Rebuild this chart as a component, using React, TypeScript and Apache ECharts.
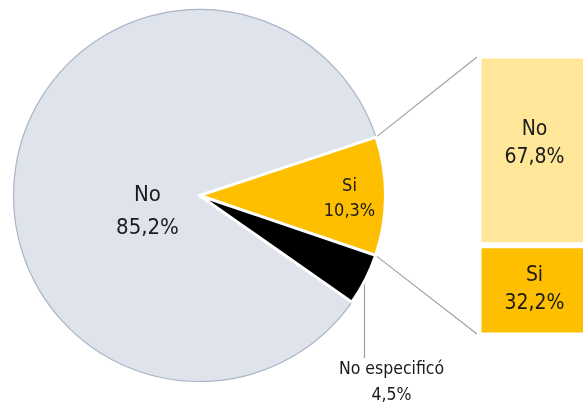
import { useEffect, useRef } from 'react';
import * as echarts from 'echarts';

const pieCategories = ['No', 'Si', 'No especificó'];
const pieValues = [85.2, 10.3, 4.5];
const pieColors = ['#dfe3eb', '#fdbf00', '#000000'];
const barCategories = ['Si', 'No'];
const barValues = [32.2, 67.8];
const barColors = ['#fdbf00', '#ffe699'];

const fmt = (v: number) => v.toFixed(1).replace('.', ',') + '%';
const FONT = "'DejaVu Sans Condensed', 'Liberation Sans Narrow', sans-serif";

export default function App() {
  const ref = useRef<HTMLDivElement>(null);
  useEffect(() => {
    const chart = echarts.init(ref.current!, null, { renderer: 'svg' });
    const cx = 199.5, cy = 195.5, R = 186;
    const total = pieValues.reduce((a, b) => a + b, 0);
    const siTop = 18.3;
    const startAngle = siTop + (pieValues[0] / total) * 360;
    const siBottom = siTop - (pieValues[1] / total) * 360;
    const neMid = siBottom - (pieValues[2] / total) * 180;
    const d = Math.PI / 180;
    const pt = (a: number, r: number) => [cx + r * Math.cos(a * d), cy - r * Math.sin(a * d)];

    const gLeft = 478.5, gTop = 55.5, gW = 112, gH = 280;
    const barTop = gTop + 1.5, barBottom = gTop + gH - 1.5, barLeft = gLeft - 1.5;

    const labelCfg = [
      { size: 22, lh: 33, x: 147.5, y: 209.5 },
      { size: 18, lh: 25, x: 349.5, y: 196.5 },
      { size: 17.5, lh: 26, x: 391.5, y: 380.5 },
    ];

    const pTop = pt(siTop, R);
    const pBot = pt(siBottom, R);
    const pNe = pt(neMid, R - 1);

    chart.setOption({
      animation: false,
      grid: { left: gLeft, top: gTop, width: gW, height: gH, outerBoundsMode: 'none', containLabel: false },
      xAxis: { type: 'category', data: ['x'], show: false },
      yAxis: { type: 'value', min: 0, max: 100, show: false },
      series: [
        {
          type: 'pie',
          center: [cx, cy],
          radius: R,
          startAngle,
          clockwise: true,
          avoidLabelOverlap: false,
          silent: true,
          emphasis: { disabled: true },
          labelLine: { show: false },
          data: pieCategories.map((name, i) => ({
            name,
            value: pieValues[i],
            itemStyle: i === 0
              ? { color: pieColors[i], borderColor: '#a9b5c7', borderWidth: 1.2 }
              : { color: pieColors[i], borderColor: '#ffffff', borderWidth: 3 },
            labelLine: { show: false },
            label: {
              show: true,
              position: 'inside',
              formatter: `${name}\n${fmt(pieValues[i])}`,
              fontFamily: FONT,
              fontSize: labelCfg[i].size,
              lineHeight: labelCfg[i].lh,
              color: '#1a1a1a',
              align: 'center',
            },
          })),
          labelLayout: (p: any) => ({
            x: labelCfg[p.dataIndex].x,
            y: labelCfg[p.dataIndex].y,
            align: 'center',
            verticalAlign: 'middle',
          }),
        },
        ...barCategories.map((name, i) => ({
          type: 'bar',
          name,
          stack: 'total',
          barWidth: '100%',
          silent: true,
          data: [barValues[i]],
          itemStyle: { color: barColors[i], borderColor: '#ffffff', borderWidth: 3 },
          label: {
            show: true,
            position: 'inside',
            formatter: `${name}\n${fmt(barValues[i])}`,
            fontFamily: FONT,
            fontSize: 21,
            lineHeight: 28,
            color: '#1a1a1a',
            offset: name === 'No' ? [0, -8] : [0, -2],
          },
        })),
      ],
      graphic: [
        { type: 'line', shape: { x1: pTop[0], y1: pTop[1], x2: barLeft, y2: barTop }, style: { stroke: '#a0a0a0', lineWidth: 1.2 }, silent: true },
        { type: 'line', shape: { x1: pBot[0], y1: pBot[1], x2: barLeft, y2: barBottom }, style: { stroke: '#a0a0a0', lineWidth: 1.2 }, silent: true },
        { type: 'line', shape: { x1: pNe[0], y1: pNe[1], x2: pNe[0], y2: 358 }, style: { stroke: '#a0a0a0', lineWidth: 1.2 }, silent: true },
      ],
    });
    return () => chart.dispose();
  }, []);
  return <div ref={ref} style={{ position: 'fixed', left: 0, top: 0, width: 583, height: 403 }} />;
}
